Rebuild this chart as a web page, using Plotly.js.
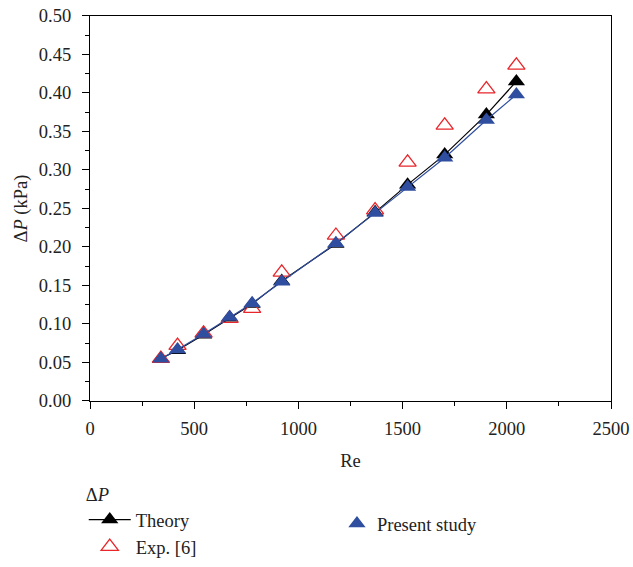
<!DOCTYPE html>
<html><head><meta charset="utf-8">
<script src="https://cdn.plot.ly/plotly-3.0.1.min.js"></script>
<style>body{margin:0;padding:0;background:#fff}#chart{width:633px;height:567px}</style>
</head><body><div id="chart"></div>
<script>
const re = [340, 420, 545, 670, 778, 920, 1180, 1368, 1524, 1702, 1902, 2046];
const theory = [0.055, 0.066, 0.086, 0.108, 0.126, 0.156, 0.204, 0.245, 0.281, 0.320, 0.372, 0.415];
const expData = [0.055, 0.072, 0.088, 0.107, 0.120, 0.167, 0.215, 0.248, 0.310, 0.358, 0.405, 0.436];
const present = [0.055, 0.067, 0.087, 0.109, 0.127, 0.155, 0.205, 0.244, 0.278, 0.316, 0.365, 0.398];

const fam = 'Liberation Serif, Times New Roman, serif';
const tickFont = {family: fam, size: 18.5, color: '#222'};
const legFont = {family: fam, size: 18.5, color: '#222'};
const blue = '#2F4E9F';
const red = '#E8262B';

const traces = [
  {x: re, y: theory, name: 'Theory', mode: 'lines+markers', type: 'scatter',
   line: {color: '#000', width: 1.2}, marker: {symbol: 'triangle-up', size: 15, color: '#000'}, legend: 'legend'},
  {x: re, y: expData, name: 'Exp. [6]', mode: 'markers', type: 'scatter',
   marker: {symbol: 'triangle-up-open', size: 15, color: red, line: {width: 1.3, color: red}}, legend: 'legend'},
  {x: re, y: present, name: 'Present study line', mode: 'lines', type: 'scatter', showlegend: false,
   line: {color: blue, width: 1.2}},
  {x: re, y: present, name: 'Present study', mode: 'markers', type: 'scatter',
   marker: {symbol: 'triangle-up', size: 15, color: blue}, legend: 'legend2'}
];

const layout = {
  width: 633, height: 567,
  margin: {l: 90, r: 22, t: 0, b: 166},
  paper_bgcolor: '#fff', plot_bgcolor: '#fff',
  font: tickFont,
  showlegend: true,
  xaxis: {
    range: [0, 2500], tickvals: [0, 500, 1000, 1500, 2000, 2500],
    ticks: 'outside', ticklen: 7, tickwidth: 1, tickcolor: '#000',
    minor: {dtick: 250, ticks: 'outside', ticklen: 4, tickcolor: '#000', showgrid: false},
    showline: true, linecolor: '#000', linewidth: 1.2, mirror: true,
    showgrid: false, zeroline: false, automargin: false,
    tickfont: tickFont, ticklabelstandoff: 4,
    title: {text: 'Re', font: tickFont, standoff: 15}
  },
  yaxis: {
    domain: [0, 0.9601],
    range: [0, 0.5], dtick: 0.05, tickformat: '.2f',
    ticks: 'outside', ticklen: 7, tickwidth: 1, tickcolor: '#000',
    minor: {dtick: 0.025, ticks: 'outside', ticklen: 4, tickcolor: '#000', showgrid: false},
    showline: true, linecolor: '#000', linewidth: 1.2, mirror: true,
    showgrid: false, zeroline: false, automargin: false,
    tickfont: tickFont, ticklabelstandoff: 7,
    title: {text: 'Δ<i>P</i> (kPa)', font: tickFont, standoff: 6}
  },
  legend: {
    x: -0.012, y: -0.4115, xanchor: 'left', yanchor: 'bottom',
    orientation: 'v', bgcolor: 'rgba(0,0,0,0)',
    title: {text: 'Δ<i>P</i>', font: legFont, side: 'top'},
    font: legFont, tracegroupgap: 0, itemwidth: 42
  },
  legend2: {
    x: 0.474, y: -0.259, xanchor: 'left', yanchor: 'top',
    orientation: 'v', bgcolor: 'rgba(0,0,0,0)',
    font: legFont, itemwidth: 30
  }
};

Plotly.newPlot('chart', traces, layout, {displayModeBar: false});
</script></body></html>
